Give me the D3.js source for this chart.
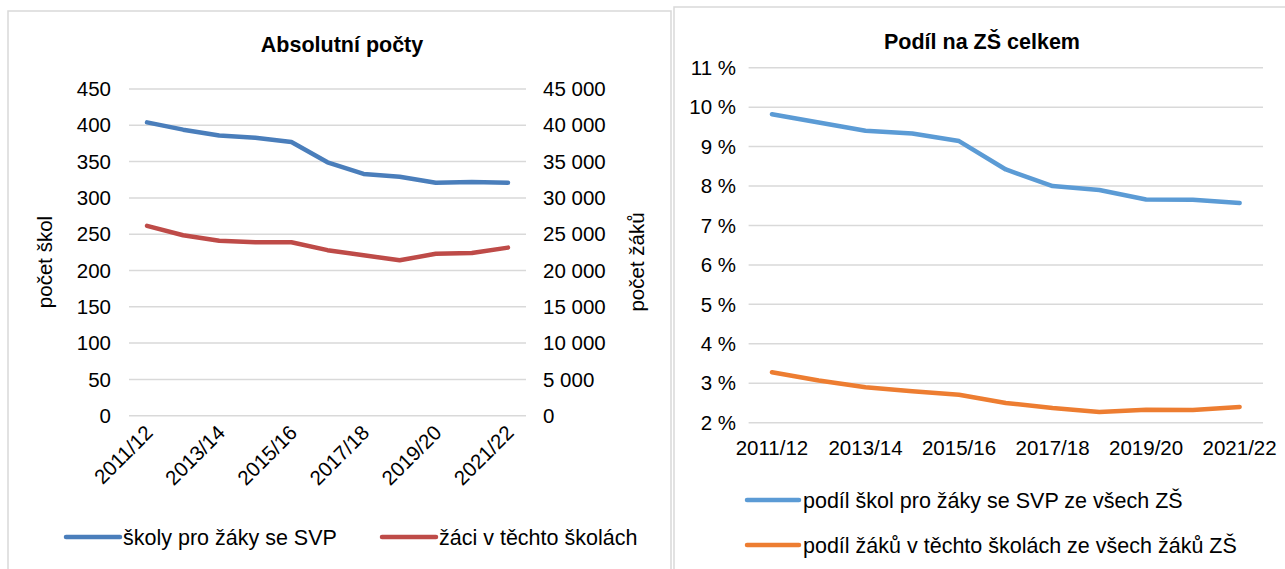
<!DOCTYPE html>
<html lang="cs">
<head>
  <meta charset="utf-8">
  <title>Školy pro žáky se SVP</title>
  <script src="https://cdnjs.cloudflare.com/ajax/libs/d3/7.8.5/d3.min.js"></script>
  <style>
    html, body { margin: 0; padding: 0; background: #fff; }
    text { font-family: "Liberation Sans", Arial, sans-serif; fill: #000; }
    .grid line { stroke: #d9d9d9; stroke-width: 1.5; }
    .title { font-weight: bold; font-size: 21.5px; }
    .tick-label { font-size: 20.5px; }
    .legend-label { font-size: 21.5px; }
    .series { fill: none; stroke-width: 4.5; stroke-linejoin: round; stroke-linecap: round; }
  </style>
</head>
<body>
<svg id="chart" width="1285" height="569"></svg>
<script>
  // years on both charts
  var years = ["2011/12", "2012/13", "2013/14", "2014/15", "2015/16", "2016/17",
               "2017/18", "2018/19", "2019/20", "2020/21", "2021/22"];
  var shownYears = ["2011/12", "2013/14", "2015/16", "2017/18", "2019/20", "2021/22"];

  // left chart - absolute counts
  var schools = [404, 394, 386, 383, 377, 349, 333, 329, 321, 322, 321];
  var pupils = [26150, 24850, 24100, 23900, 23900, 22800, 22100, 21400, 22300, 22400, 23150];
  var schoolTicks = [0, 50, 100, 150, 200, 250, 300, 350, 400, 450];
  var pupilTicks = [0, 5000, 10000, 15000, 20000, 25000, 30000, 35000, 40000, 45000];

  // right chart - share of all ZŠ (%)
  var shareSchools = [9.82, 9.61, 9.40, 9.33, 9.14, 8.42, 8.00, 7.90, 7.66, 7.65, 7.57];
  var sharePupils = [3.28, 3.07, 2.90, 2.80, 2.71, 2.50, 2.37, 2.27, 2.33, 2.32, 2.40];
  var shareTicks = [2, 3, 4, 5, 6, 7, 8, 9, 10, 11];

  var svg = d3.select("#chart");
  var fmtThousands = function(v) { return d3.format(",")(v).replace(/,/g, " "); };

  // panel frames
  svg.append("rect").attr("x", 8).attr("y", 11).attr("width", 663).attr("height", 600)
     .attr("fill", "none").attr("stroke", "#d9d9d9").attr("stroke-width", 1.5);
  svg.append("rect").attr("x", 674).attr("y", 7).attr("width", 650).attr("height", 600)
     .attr("fill", "none").attr("stroke", "#d9d9d9").attr("stroke-width", 1.5);

  // ---------- left chart ----------
  var x1 = d3.scaleBand().domain(years).range([129, 526]);
  var yL = d3.scaleLinear().domain([0, 450]).range([415.7, 89]);
  var yR = d3.scaleLinear().domain([0, 45000]).range([415.7, 89]);
  var left = svg.append("g");

  left.append("g").attr("class", "grid").selectAll("line").data(schoolTicks).enter()
      .append("line").attr("x1", 129).attr("x2", 526)
      .attr("y1", d => yL(d)).attr("y2", d => yL(d));

  left.append("g").selectAll("text").data(schoolTicks).enter().append("text")
      .attr("class", "tick-label").attr("x", 111).attr("y", d => yL(d))
      .attr("dy", "0.35em").attr("text-anchor", "end").text(d => d);

  left.append("g").selectAll("text").data(pupilTicks).enter().append("text")
      .attr("class", "tick-label").attr("x", 543).attr("y", d => yR(d))
      .attr("dy", "0.35em").attr("text-anchor", "start").text(fmtThousands);

  left.append("g").selectAll("text").data(shownYears).enter().append("text")
      .attr("class", "tick-label").attr("text-anchor", "end")
      .attr("transform", d => "translate(" + (x1(d) + x1.bandwidth() / 2 + 7) + ",434) rotate(-45)")
      .text(d => d);

  left.append("text").attr("class", "tick-label").attr("text-anchor", "middle")
      .attr("transform", "translate(52,262) rotate(-90)").text("počet škol");
  left.append("text").attr("class", "tick-label").attr("text-anchor", "middle")
      .attr("transform", "translate(644,262) rotate(-90)").text("počet žáků");

  left.append("text").attr("class", "title").attr("x", 342).attr("y", 52)
      .attr("text-anchor", "middle").text("Absolutní počty");

  var lineL = d3.line().x((d, i) => x1(years[i]) + x1.bandwidth() / 2).y(d => yL(d));
  var lineR = d3.line().x((d, i) => x1(years[i]) + x1.bandwidth() / 2).y(d => yR(d));
  left.append("path").attr("class", "series").attr("stroke", "#4a7ebb").attr("d", lineL(schools));
  left.append("path").attr("class", "series").attr("stroke", "#be4b48").attr("d", lineR(pupils));

  // legend
  var legL = [
    { name: "školy pro žáky se SVP", color: "#4a7ebb", x: 66 },
    { name: "žáci v těchto školách", color: "#be4b48", x: 382 }
  ];
  legL.forEach(function(l) {
    left.append("line").attr("x1", l.x).attr("x2", l.x + 54).attr("y1", 537).attr("y2", 537)
        .attr("stroke", l.color).attr("stroke-width", 4.5).attr("stroke-linecap", "round");
    left.append("text").attr("class", "legend-label").attr("x", l.x + 57).attr("y", 537)
        .attr("dy", "0.35em").text(l.name);
  });

  // ---------- right chart ----------
  var x2 = d3.scaleBand().domain(years).range([748.6, 1263]);
  var y2 = d3.scaleLinear().domain([2, 11]).range([422.7, 67.7]);
  var right = svg.append("g");

  right.append("g").attr("class", "grid").selectAll("line").data(shareTicks).enter()
      .append("line").attr("x1", 748.6).attr("x2", 1263)
      .attr("y1", d => y2(d)).attr("y2", d => y2(d));

  right.append("g").selectAll("text").data(shareTicks).enter().append("text")
      .attr("class", "tick-label").attr("x", 736).attr("y", d => y2(d))
      .attr("dy", "0.35em").attr("text-anchor", "end").text(d => d + " %");

  right.append("g").selectAll("text").data(shownYears).enter().append("text")
      .attr("class", "tick-label").attr("text-anchor", "middle")
      .attr("x", d => x2(d) + x2.bandwidth() / 2).attr("y", 455).text(d => d);

  right.append("text").attr("class", "title").attr("x", 982).attr("y", 49)
      .attr("text-anchor", "middle").text("Podíl na ZŠ celkem");

  var line2 = d3.line().x((d, i) => x2(years[i]) + x2.bandwidth() / 2).y(d => y2(d));
  right.append("path").attr("class", "series").attr("stroke", "#5b9bd5").attr("d", line2(shareSchools));
  right.append("path").attr("class", "series").attr("stroke", "#ed7d31").attr("d", line2(sharePupils));

  var legR = [
    { name: "podíl škol pro žáky se SVP ze všech ZŠ", color: "#5b9bd5", y: 500 },
    { name: "podíl žáků v těchto školách ze všech žáků ZŠ", color: "#ed7d31", y: 545 }
  ];
  legR.forEach(function(l) {
    right.append("line").attr("x1", 747).attr("x2", 799).attr("y1", l.y).attr("y2", l.y)
        .attr("stroke", l.color).attr("stroke-width", 4.5).attr("stroke-linecap", "round");
    right.append("text").attr("class", "legend-label").attr("x", 803).attr("y", l.y)
        .attr("dy", "0.35em").text(l.name);
  });
</script>
</body>
</html>
